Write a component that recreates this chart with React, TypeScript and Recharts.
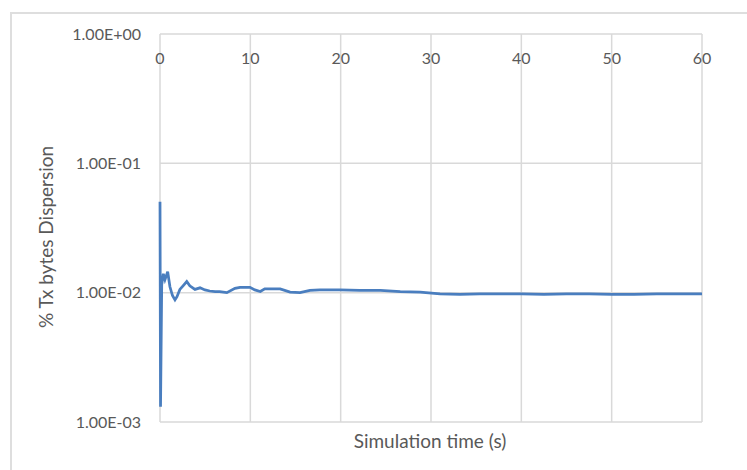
import React from "react";
import { LineChart, Line, XAxis, YAxis, CartesianGrid } from "recharts";

const timeTicks = [0, 10, 20, 30, 40, 50, 60];
const dispersionTicks = [0.001, 0.01, 0.1, 1];

const times = [
  0, 0.06, 0.19, 0.37, 0.55, 0.85, 1.1, 1.38, 1.66, 1.88, 2.2, 2.55, 2.96, 3.3,
  3.87, 4.43, 4.98, 5.5, 6.1, 6.6, 7.4, 8.3, 8.86, 9.4, 9.96, 10.5, 11.1, 11.6,
  12.2, 13.3, 14.4, 15.5, 16.6, 17.7, 19.9, 22.1, 24.4, 26.6, 28.8, 31.0, 33.2,
  35.4, 38, 40, 42.5, 45, 47.5, 50, 52.5, 55, 57.5, 60,
];
const dispersion = [
  0.0504, 0.00131, 0.0115, 0.014, 0.0126, 0.0145, 0.0111, 0.0095, 0.0088,
  0.0093, 0.0106, 0.0113, 0.0122, 0.0113, 0.0106, 0.0109, 0.0105, 0.0103,
  0.0102, 0.0102, 0.01, 0.0108, 0.011, 0.011, 0.011, 0.0105, 0.0102, 0.0107,
  0.0107, 0.0107, 0.0101, 0.01, 0.0104, 0.0105, 0.0105, 0.0104, 0.0104, 0.0102,
  0.0101, 0.0098, 0.0097, 0.0098, 0.0098, 0.0098, 0.0097, 0.0098, 0.0098,
  0.0097, 0.0097, 0.0098, 0.0098, 0.0098,
];

const data = times.map((t, i) => ({ t, v: dispersion[i] }));

const fmt = (v: number) => {
  const exp = Math.round(Math.log10(v));
  const sign = exp < 0 ? "-" : "+";
  const abs = Math.abs(exp).toString().padStart(2, "0");
  return (v / Math.pow(10, exp)).toFixed(2) + "E" + sign + abs;
};

const FONT = "Lato, 'Open Sans', sans-serif";
const TEXT = "#595959";
const GRID = "#d9d9d9";

export default function App() {
  return (
    <div
      style={{
        position: "absolute",
        left: 0,
        top: 0,
        width: 747,
        height: 470,
        overflow: "hidden",
        background: "#fff",
        fontFamily: FONT,
      }}
    >
      <div
        style={{
          position: "absolute",
          left: 10,
          top: 12,
          width: 800,
          height: 600,
          border: "2px solid #dedede",
          boxSizing: "border-box",
        }}
      />
      <div style={{ position: "absolute", left: 0, top: 0 }}>
        <LineChart
          width={747}
          height={470}
          data={data}
          margin={{ top: 34, right: 45, bottom: 48, left: 10 }}
        >
          <CartesianGrid stroke={GRID} strokeWidth={1.5} />
          <XAxis
            dataKey="t"
            type="number"
            domain={[0, 60]}
            ticks={timeTicks}
            orientation="top"
            mirror
            height={20}
            tickLine={false}
            tickSize={0}
            tickMargin={19}
            axisLine={false}
            tick={{ fill: TEXT, fontSize: 16, fontFamily: FONT }}
            interval={0}
          />
          <YAxis
            dataKey="v"
            type="number"
            scale="log"
            domain={[0.001, 1]}
            ticks={dispersionTicks}
            width={150}
            tickLine={false}
            tickSize={0}
            tickMargin={19}
            axisLine={false}
            tick={{ fill: TEXT, fontSize: 16, fontFamily: FONT }}
            tickFormatter={fmt}
            interval={0}
          />
          <Line
            type="linear"
            dataKey="v"
            stroke="#4a7ebf"
            strokeWidth={2.75}
            dot={false}
            isAnimationActive={false}
          />
        </LineChart>
      </div>
      <div
        style={{
          position: "absolute",
          left: 430,
          top: 440,
          transform: "translate(-50%, -50%)",
          whiteSpace: "nowrap",
          fontSize: 19,
          color: TEXT,
        }}
      >
        Simulation time (s)
      </div>
      <div
        style={{
          position: "absolute",
          left: 45,
          top: 237,
          transform: "translate(-50%, -50%) rotate(-90deg)",
          whiteSpace: "nowrap",
          fontSize: 19,
          color: TEXT,
        }}
      >
        % Tx bytes Dispersion
      </div>
    </div>
  );
}
